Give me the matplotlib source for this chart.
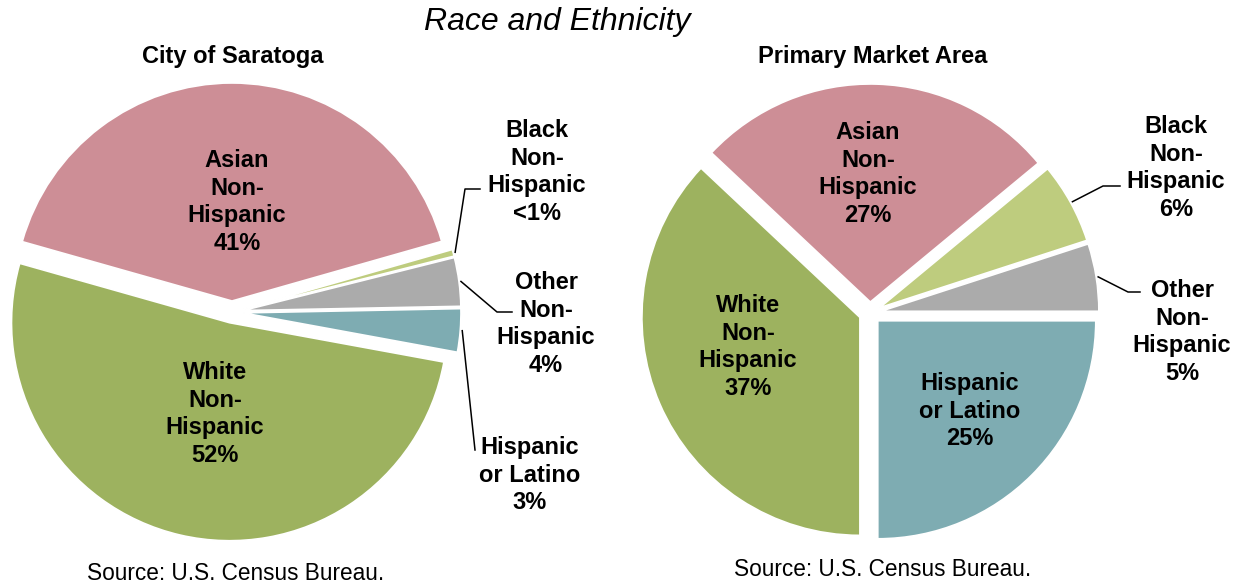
import numpy as np
import matplotlib.pyplot as plt

plt.rcParams['font.family'] = ['Liberation Sans', 'DejaVu Sans']

# slice order goes clockwise from the Asian/White boundary
categories = ["Asian\nNon-\nHispanic", "Black\nNon-\nHispanic", "Other\nNon-\nHispanic",
              "Hispanic\nor Latino", "White\nNon-\nHispanic"]
colors = ["#CD8E96", "#BECC7E", "#ABABAB", "#7EACB2", "#9DB25F"]

saratoga_values = [41.2, 0.5, 3.6, 3.2, 51.5]
saratoga_pct = ["41%", "<1%", "4%", "3%", "52%"]

pma_values = [27, 6, 5, 25, 37]
pma_pct = ["27%", "6%", "5%", "25%", "37%"]

W, H = 1241, 584


def px(x, y):
    """pixel coords of the picture (y down) -> data coords (y up)"""
    return x, H - y


fig = plt.figure(figsize=(W / 100, H / 100), dpi=100)
ax = fig.add_axes([0, 0, 1, 1])

pies = [
    # values, pct, center, startangle, label positions, leader lines
    (saratoga_values, saratoga_pct, px(232, 312), 164.2,
     {0: (237, 202), 4: (215, 414), 1: (537, 172), 2: (546, 324), 3: (530, 475)},
     {1: [(465, 189), (480, 189)], 2: [(497, 312), (512, 312)], 3: [(475, 450)]}),
    (pma_values, pma_pct, px(870, 313), 136.8,
     {0: (868, 174), 4: (748, 347), 3: (970, 411), 1: (1176, 168), 2: (1182, 332)},
     {1: [(1103, 186), (1120, 186)], 2: [(1128, 292), (1140, 292)]}),
]

for values, pct, center, start, label_pos, leaders in pies:
    # pie explode is in data units here (1 unit = 1 px)
    wedges, _ = ax.pie(values, colors=colors, startangle=start, counterclock=False,
                       center=center, radius=218, explode=[11] * len(values),
                       wedgeprops=dict(edgecolor='white', linewidth=1.2))
    for i, (lx, ly) in label_pos.items():
        ax.text(*px(lx, ly), categories[i] + "\n" + pct[i], ha='center', va='center',
                fontsize=17, fontweight='bold', linespacing=1.25)
    for i, pts in leaders.items():
        w = wedges[i]
        mid = np.deg2rad((w.theta1 + w.theta2) / 2)
        sx = w.center[0] + (w.r + 2) * np.cos(mid)
        sy = w.center[1] + (w.r + 2) * np.sin(mid)
        xs = [sx] + [p[0] for p in pts]
        ys = [sy] + [H - p[1] for p in pts]
        ax.plot(xs, ys, color='black', lw=1.1)

ax.text(*px(557, 22), "Race and Ethnicity", ha='center', va='center',
        fontsize=23, fontstyle='italic')
ax.text(*px(233, 57), "City of Saratoga", ha='center', va='center',
        fontsize=17, fontweight='bold')
ax.text(*px(873, 57), "Primary Market Area", ha='center', va='center',
        fontsize=17, fontweight='bold')
ax.text(*px(236, 574), "Source: U.S. Census Bureau.", ha='center', va='center', fontsize=16.3)
ax.text(*px(883, 569), "Source: U.S. Census Bureau.", ha='center', va='center', fontsize=16.3)

ax.set_xlim(0, W)
ax.set_ylim(0, H)
ax.set_aspect('equal')
ax.axis('off')

fig.savefig("out.png", dpi=100)
